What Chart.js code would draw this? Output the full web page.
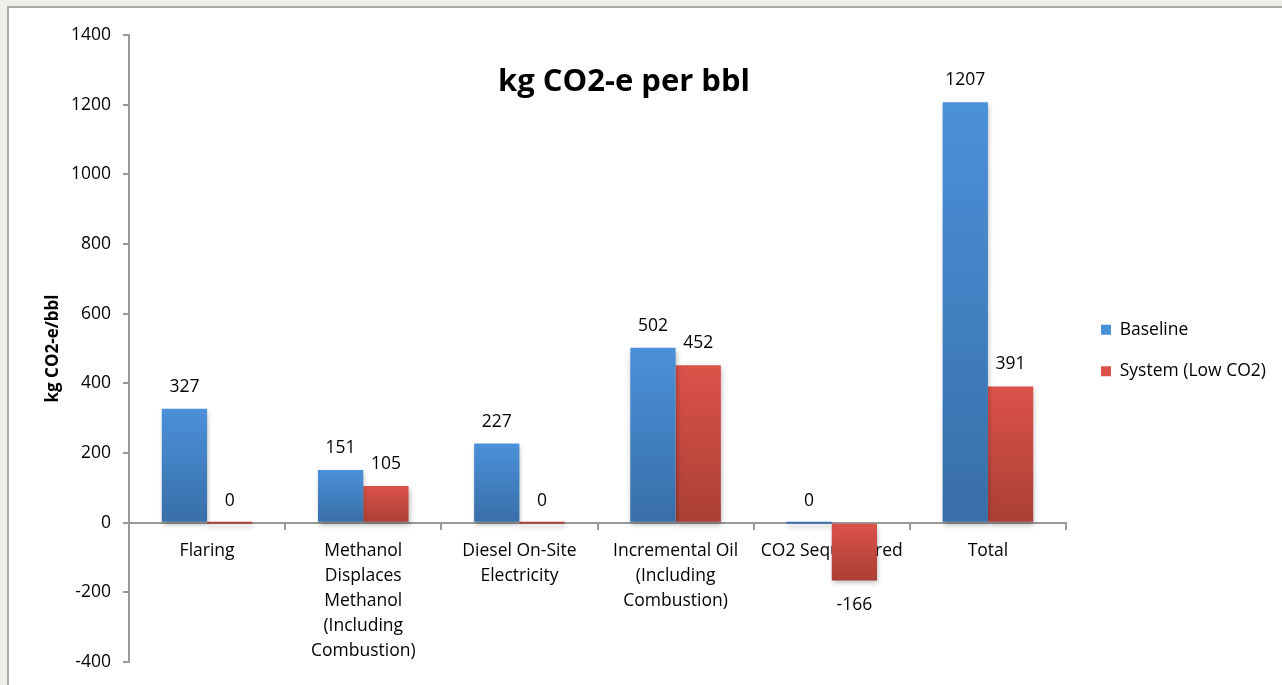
<!DOCTYPE html>
<html>
<head>
<meta charset="utf-8">
<script src="https://cdn.jsdelivr.net/npm/chart.js@4.4.1/dist/chart.umd.min.js"></script>
<style>
    html, body { margin: 0; padding: 0; background: #efeee9; overflow: hidden; }
    #frame {
        position: absolute; left: 7px; top: 6px;
        width: 1280px; height: 684px;
        background: #fff;
        border-left: 2px solid #a9a9a9;
        border-top: 2px solid #a9a9a9;
    }
    #chartBox { position: absolute; left: 0; top: 0; width: 1273px; height: 677px; }
</style>
</head>
<body>
<div id="frame">
    <div id="chartBox"><canvas id="co2Chart"></canvas></div>
</div>
<script>
// Chart data
const categories = [
    'Flaring',
    ['Methanol', 'Displaces', 'Methanol', '(Including', 'Combustion)'],
    ['Diesel On-Site', 'Electricity'],
    ['Incremental Oil', '(Including', 'Combustion)'],
    'CO2 Sequestered',
    'Total'
];
const baselineValues = [327, 151, 227, 502, 0, 1207];
const systemValues = [0, 105, 0, 452, -166, 391];
const yTicks = [-400, -200, 0, 200, 400, 600, 800, 1000, 1200, 1400];

const FONT = '"Open Sans", "Liberation Sans", sans-serif';
const TEXT_SIZE = 17.5;

// vertical gradient per bar, lighter at the top
function barGradient(light, dark) {
    return function(context) {
        if (context.type !== 'data') return light;
        const chart = context.chart;
        if (!chart.chartArea) return light;
        const y = chart.scales.y;
        const v = context.raw;
        let top = y.getPixelForValue(Math.max(v, 0));
        let bottom = y.getPixelForValue(Math.min(v, 0));
        if (bottom - top < 2) top = bottom - 2;
        const g = chart.ctx.createLinearGradient(0, top, 0, bottom);
        g.addColorStop(0, light);
        g.addColorStop(1, dark);
        return g;
    };
}

// Title inside plot area
const innerTitle = {
    id: 'innerTitle',
    afterDraw(chart) {
        const ctx = chart.ctx;
        ctx.save();
        ctx.font = 'bold 31px ' + FONT;
        ctx.fillStyle = '#000';
        ctx.textAlign = 'center';
        ctx.textBaseline = 'middle';
        ctx.fillText('kg CO2-e per bbl', 615, 74);
        ctx.restore();
    }
};

// soft shadow under bars
const barShadow = {
    id: 'barShadow',
    beforeDatasetsDraw(chart) {
        const ctx = chart.ctx;
        ctx.save();
        ctx.shadowColor = 'rgba(0, 0, 0, 0.28)';
        ctx.shadowBlur = 5;
        ctx.shadowOffsetX = 1;
        ctx.shadowOffsetY = 3;
    },
    afterDatasetsDraw(chart) {
        chart.ctx.restore();
    }
};

// value labels above / below bars
const valueLabels = {
    id: 'valueLabels',
    afterDatasetsDraw(chart) {
        const ctx = chart.ctx;
        const y = chart.scales.y;
        ctx.save();
        ctx.font = TEXT_SIZE + 'px ' + FONT;
        ctx.fillStyle = '#000';
        ctx.textAlign = 'center';
        ctx.textBaseline = 'middle';
        chart.data.datasets.forEach((ds, i) => {
            chart.getDatasetMeta(i).data.forEach((bar, j) => {
                const v = ds.data[j];
                if (v < 0) {
                    ctx.fillText(String(v), bar.x, y.getPixelForValue(v) + 25);
                } else {
                    ctx.fillText(String(v), bar.x, y.getPixelForValue(v) - 22);
                }
            });
        });
        ctx.restore();
    }
};

// keep the plot right edge and legend where the original has them
const legendPlace = {
    id: 'legendPlace',
    beforeInit(chart) {
        const legend = chart.legend;
        if (!legend) return;
        const origFit = legend.fit.bind(legend);
        legend.fit = function() {
            origFit();
            this.width = 212;
        };
    },
    afterLayout(chart) {
        if (!chart.legend) return;
        chart.legend.left += 11;
        chart.legend.right += 11;
        chart.legend.top += 2;
        chart.legend.bottom += 2;
    }
};

document.addEventListener('DOMContentLoaded', function() {
    const ctx = document.getElementById('co2Chart').getContext('2d');
    new Chart(ctx, {
        type: 'bar',
        data: {
            labels: categories,
            datasets: [
                {
                    label: 'Baseline',
                    data: baselineValues,
                    backgroundColor: barGradient('#4b91d9', '#386ea8'),
                    minBarLength: 2
                },
                {
                    label: 'System (Low CO2)',
                    data: systemValues,
                    backgroundColor: barGradient('#dc5249', '#aa3f36'),
                    minBarLength: 2
                }
            ]
        },
        options: {
            responsive: true,
            maintainAspectRatio: false,
            animation: false,
            categoryPercentage: 0.58,
            barPercentage: 1.0,
            layout: {
                padding: { left: 30, top: 27, right: 4, bottom: 23 }
            },
            scales: {
                x: {
                    position: { y: 0 },
                    border: { color: '#999', width: 2 },
                    grid: {
                        drawOnChartArea: false,
                        drawTicks: true,
                        tickLength: 6,
                        color: '#999',
                        lineWidth: 2,
                        offset: true
                    },
                    ticks: {
                        color: '#000',
                        padding: 10,
                        maxRotation: 0,
                        autoSkip: false,
                        font: { family: FONT, size: TEXT_SIZE, lineHeight: 1.43 }
                    }
                },
                y: {
                    min: -400,
                    max: 1400,
                    afterBuildTicks(scale) {
                        scale.ticks = yTicks.map(v => ({ value: v }));
                    },
                    afterFit(scale) {
                        scale.width = 90;
                    },
                    border: { color: '#999', width: 2 },
                    grid: {
                        drawOnChartArea: false,
                        tickLength: 6,
                        color: '#999',
                        lineWidth: 2
                    },
                    ticks: {
                        color: '#000',
                        padding: 12,
                        font: { family: FONT, size: TEXT_SIZE },
                        callback: (value) => String(value)
                    },
                    title: {
                        display: true,
                        text: 'kg CO2-e/bbl',
                        color: '#000',
                        padding: { top: 4, bottom: 0 },
                        font: { family: FONT, size: 17, weight: 'bold' }
                    }
                }
            },
            plugins: {
                legend: {
                    position: 'right',
                    align: 'center',
                    labels: {
                        color: '#000',
                        boxWidth: 10,
                        boxHeight: 10,
                        padding: 24,
                        font: { family: FONT, size: TEXT_SIZE }
                    }
                },
                tooltip: { enabled: false },
                title: { display: false }
            }
        },
        plugins: [legendPlace, barShadow, valueLabels, innerTitle]
    });
});
</script>
</body>
</html>
